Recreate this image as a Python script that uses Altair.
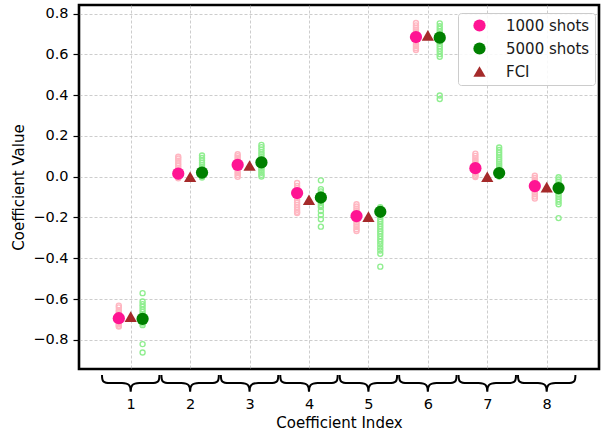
import altair as alt
import pandas as pd

# Coefficient indices on the x axis
indices = [1, 2, 3, 4, 5, 6, 7, 8]

# Mean estimates per coefficient
mean_1000 = [-0.694, 0.015, 0.058, -0.080, -0.193, 0.685, 0.042, -0.046]
mean_5000 = [-0.697, 0.020, 0.070, -0.102, -0.172, 0.682, 0.018, -0.056]
fci_values = [-0.686, 0.000, 0.055, -0.113, -0.196, 0.693, 0.000, -0.051]

# Individual runs with 1000 shots, one list per coefficient
runs_1000 = [
    [-0.632, -0.641, -0.655, -0.662, -0.671, -0.678, -0.684, -0.688, -0.691, -0.694,
     -0.697, -0.700, -0.704, -0.708, -0.713, -0.719, -0.724, -0.731, -0.735],
    [0.098, 0.089, 0.078, 0.066, 0.055, 0.044, 0.036, 0.028, 0.021, 0.015,
     0.010, 0.004, -0.002, -0.008],
    [0.110, 0.101, 0.092, 0.083, 0.075, 0.068, 0.062, 0.057, 0.051, 0.044,
     0.036, 0.027, 0.018, 0.009, 0.000],
    [-0.031, -0.045, -0.056, -0.066, -0.074, -0.081, -0.088, -0.096, -0.105, -0.115,
     -0.126, -0.138, -0.150, -0.162, -0.172, -0.178],
    [-0.135, -0.146, -0.157, -0.167, -0.176, -0.184, -0.191, -0.198, -0.206, -0.215,
     -0.225, -0.236, -0.247, -0.258, -0.266],
    [0.754, 0.742, 0.731, 0.721, 0.712, 0.704, 0.697, 0.690, 0.684, 0.677,
     0.669, 0.660, 0.650, 0.640, 0.630, 0.621],
    [0.113, 0.102, 0.091, 0.081, 0.072, 0.064, 0.056, 0.049, 0.042, 0.035,
     0.027, 0.019, 0.011, 0.003, -0.002],
    [0.005, -0.006, -0.016, -0.025, -0.033, -0.040, -0.046, -0.052, -0.059, -0.067,
     -0.076, -0.086, -0.097, -0.107],
]

# Individual runs with 5000 shots, one list per coefficient
runs_5000 = [
    [-0.571, -0.612, -0.625, -0.638, -0.651, -0.663, -0.674, -0.683, -0.690, -0.696,
     -0.701, -0.707, -0.713, -0.720, -0.728, -0.821, -0.862],
    [0.104, 0.092, 0.081, 0.069, 0.058, 0.048, 0.039, 0.031, 0.024, 0.018,
     0.012, 0.006, 0.001, -0.004],
    [0.156, 0.145, 0.133, 0.121, 0.110, 0.099, 0.089, 0.080, 0.072, 0.065,
     0.057, 0.048, 0.039, 0.029, 0.019, 0.009, 0.001],
    [-0.018, -0.061, -0.072, -0.083, -0.093, -0.101, -0.109, -0.118, -0.128, -0.139,
     -0.149, -0.168, -0.188, -0.209, -0.245],
    [-0.150, -0.158, -0.167, -0.176, -0.186, -0.197, -0.208, -0.220, -0.232, -0.244,
     -0.256, -0.268, -0.280, -0.292, -0.305, -0.318, -0.331, -0.347, -0.362, -0.378,
     -0.441],
    [0.752, 0.738, 0.725, 0.713, 0.703, 0.694, 0.686, 0.678, 0.670, 0.661,
     0.651, 0.640, 0.628, 0.615, 0.601, 0.588, 0.398, 0.381],
    [0.143, 0.131, 0.119, 0.107, 0.095, 0.084, 0.073, 0.063, 0.054, 0.045,
     0.037, 0.029, 0.022, 0.015, 0.008, 0.001],
    [-0.003, -0.014, -0.025, -0.035, -0.044, -0.052, -0.060, -0.068, -0.077, -0.087,
     -0.098, -0.110, -0.123, -0.135, -0.203],
]

series_names = ["1000 shots", "5000 shots", "FCI"]
y_ticks = [-0.8, -0.6, -0.4, -0.2, 0.0, 0.2, 0.4, 0.6, 0.8]

# ---- tables -------------------------------------------------------------
run_rows = []
for idx, vals in zip(indices, runs_1000):
    run_rows += [{"index": idx, "value": v, "series": "1000 shots"} for v in vals]
for idx, vals in zip(indices, runs_5000):
    run_rows += [{"index": idx, "value": v, "series": "5000 shots"} for v in vals]
runs_df = pd.DataFrame(run_rows)

marker_rows = []
for name, vals in zip(series_names, [mean_1000, mean_5000, fci_values]):
    marker_rows += [{"index": i, "value": v, "series": name} for i, v in zip(indices, vals)]
markers_df = pd.DataFrame(marker_rows)

brace_df = pd.DataFrame({"index": indices})

# ---- layout ------------------------------------------------------------
PLOT_W, PLOT_H = 520, 364
dodge = ("datum.index + (datum.series == '1000 shots' ? -0.2 : "
         "(datum.series == '5000 shots' ? 0.2 : 0))")

x_scale = alt.Scale(domain=[0.13, 8.88], nice=False, zero=False)
y_scale = alt.Scale(domain=[-0.943, 0.842], nice=False, zero=False)

x_axis = alt.Axis(
    values=indices, format="d", ticks=False, tickSize=0, domain=False, grid=True,
    labelPadding=28, labelAngle=0, title="Coefficient Index", titlePadding=5,
)
y_axis = alt.Axis(
    values=y_ticks, format=".1f", domain=False, grid=True, ticks=True,
    tickSize=6, tickWidth=1.2, tickColor="black", labelPadding=5,
    title="Coefficient Value", titlePadding=6,
)

X = alt.X("xpos:Q", scale=x_scale, axis=x_axis)
Y = alt.Y("value:Q", scale=y_scale, axis=y_axis)

# individual runs as small open circles
runs_1000_layer = (
    alt.Chart(runs_df)
    .transform_filter("datum.series == '1000 shots'")
    .transform_calculate(xpos=dodge)
    .mark_point(filled=False, size=25, strokeWidth=1.4, opacity=1, color="#ffb6c1")
    .encode(x=X, y=Y)
)
runs_5000_layer = (
    alt.Chart(runs_df)
    .transform_filter("datum.series == '5000 shots'")
    .transform_calculate(xpos=dodge)
    .mark_point(filled=False, size=25, strokeWidth=1.4, opacity=1, color="#90ee90")
    .encode(x=X, y=Y)
)

legend = alt.Legend(orient="none", legendX=379, legendY=8)
markers_layer = (
    alt.Chart(markers_df)
    .transform_calculate(xpos=dodge)
    .mark_point(filled=True, size=150, opacity=1, strokeWidth=0)
    .encode(
        x=X,
        y=Y,
        color=alt.Color("series:N", title=None, legend=legend,
                        scale=alt.Scale(domain=series_names,
                                        range=["#ff1493", "#008000", "#a52a2a"])),
        shape=alt.Shape("series:N", title=None, legend=legend,
                        scale=alt.Scale(domain=series_names,
                                        range=["circle", "circle", "triangle-up"])),
    )
)

# curly braces under each coefficient group
BRACE = ("M -0.99 -0.28 C -0.99 -0.05 -0.95 0 -0.7 0 L -0.3 0 "
         "C -0.05 0 0 0.1 0 0.3 C 0 0.1 0.05 0 0.3 0 L 0.7 0 "
         "C 0.95 0 0.99 -0.05 0.99 -0.28")
braces_layer = (
    alt.Chart(brace_df)
    .mark_point(shape=BRACE, size=3364, filled=False, color="black",
                strokeWidth=2, opacity=1)
    .encode(x=alt.X("index:Q", scale=x_scale), y=alt.value(PLOT_H + 14))
)

chart = (
    alt.layer(runs_1000_layer, runs_5000_layer, markers_layer, braces_layer)
    .properties(
        width=PLOT_W, height=PLOT_H,
        autosize=alt.AutoSizeParams(type="none"),
        padding={"left": 79, "top": 5, "right": 11, "bottom": 64},
        background="white",
    )
    .configure_view(stroke="black", strokeWidth=2.6)
    .configure_axis(
        labelFont="DejaVu Sans", titleFont="DejaVu Sans",
        labelFontSize=14.5, titleFontSize=15,
        labelColor="black", titleColor="black", titleFontWeight="normal",
        gridColor="#b0b0b0", gridDash=[3, 2], gridWidth=0.8, gridOpacity=0.8,
    )
    .configure_legend(
        labelFont="DejaVu Sans", labelFontSize=15, labelColor="#1a1a1a",
        fillColor="rgba(255,255,255,0.85)", strokeColor="#cccccc",
        cornerRadius=3, padding=5, rowPadding=7, symbolSize=150,
        symbolOffset=9, labelOffset=19, symbolStrokeWidth=0,
    )
)

chart.save("out.html", embed_options={"renderer": "svg", "actions": False})
